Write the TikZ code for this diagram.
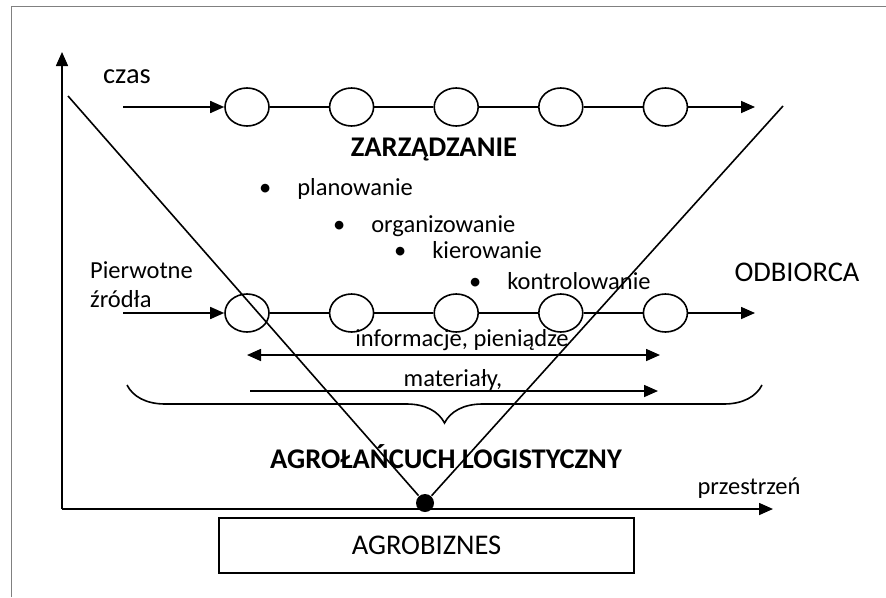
\documentclass[tikz,border=0pt]{standalone}
\usepackage{fontspec}
\setmainfont{Carlito}
\usetikzlibrary{positioning, arrows.meta, shapes.geometric,
decorations.pathreplacing}

\begin{document}
\begin{tikzpicture}[x=1pt, y=-1pt, line width=1.6pt,
    >={Triangle[length=14pt, width=12pt]},
    stage/.style={ellipse, draw, minimum width=44pt, minimum height=38pt, inner sep=0pt},
    big/.style={font=\fontsize{28.5}{33}\selectfont},
    small/.style={font=\fontsize{24.5}{29}\selectfont},
    bold/.style={font=\fontsize{28.5}{33}\selectfont\bfseries},
    node distance=59pt]
\useasboundingbox (0,0) rectangle (886,597);
\draw[gray, line width=1pt] (11,597) -- (11,6) -- (886,6);

\coordinate (O) at (62,509);
\coordinate (ytop) at (62,52);
\coordinate (xend) at (773,509);
\draw[->] (O) -- (ytop);
\draw[->] (O) -- (xend);

\node[stage] (t1) at (247,107) {};
\node[stage, right=of t1] (t2) {};
\node[stage, right=of t2] (t3) {};
\node[stage, right=of t3] (t4) {};
\node[stage, right=of t4] (t5) {};
\node[stage] (b1) at (247,313) {};
\node[stage, right=of b1] (b2) {};
\node[stage, right=of b2] (b3) {};
\node[stage, right=of b3] (b4) {};
\node[stage, right=of b4] (b5) {};

\coordinate (tin) at (123,107);
\coordinate (tout) at (755,107);
\coordinate (bin) at (123,313);
\coordinate (bout) at (755,313);
\draw[->] (tin) -- (t1);
\draw (t1) -- (t2) -- (t3) -- (t4) -- (t5);
\draw[->] (t5) -- (tout);
\draw[->] (bin) -- (b1);
\draw (b1) -- (b2) -- (b3) -- (b4) -- (b5);
\draw[->] (b5) -- (bout);

\node[fill, circle, inner sep=0pt, minimum size=18pt] (dot) at (425,503) {};
\coordinate (lt) at (68,96);
\coordinate (rt) at (783,106);
\draw (lt) -- (dot) -- (rt);

\coordinate (il) at (247,355);
\coordinate (ir) at (660,355);
\coordinate (ml) at (250,391);
\coordinate (mr) at (658,391);
\draw[<->] (il) -- (ir);
\draw[->] (ml) -- (mr);
\node[small] (info) at (462,340) {informacje, pieniądze};
\node[small] (mat) at (453,380) {materiały,};

\coordinate (bl) at (127,385);
\coordinate (br) at (762,385);
\draw[decorate, decoration={brace, mirror, amplitude=38pt}] (bl) -- (br);

\node[big] (czas) at (127,77) {czas};
\node[small, align=left, anchor=west] (src) at (86,285) {Pierwotne\\źródła};
\node[big] (odb) at (797,272) {ODBIORCA};
\node[small] (prz) at (749,488) {przestrzeń};
\node[bold] (zarz) at (434,150) {ZARZĄDZANIE};
\node[bold] (chain) at (446,457) {AGROŁAŃCUCH LOGISTYCZNY};

\node[small, anchor=west] (p1) at (255,189) {\textbullet\hspace{26pt}planowanie};
\node[small, anchor=west] (p2) at (329,226) {\textbullet\hspace{26pt}organizowanie};
\node[small, anchor=west] (p3) at (390,250) {\textbullet\hspace{26pt}kierowanie};
\node[small, anchor=west] (p4) at (465,281) {\textbullet\hspace{26pt}kontrolowanie};

\node[big, draw, minimum width=415pt, minimum height=55pt] (agro) at (426.5,545.5) {AGROBIZNES};
\end{tikzpicture}
\end{document}
